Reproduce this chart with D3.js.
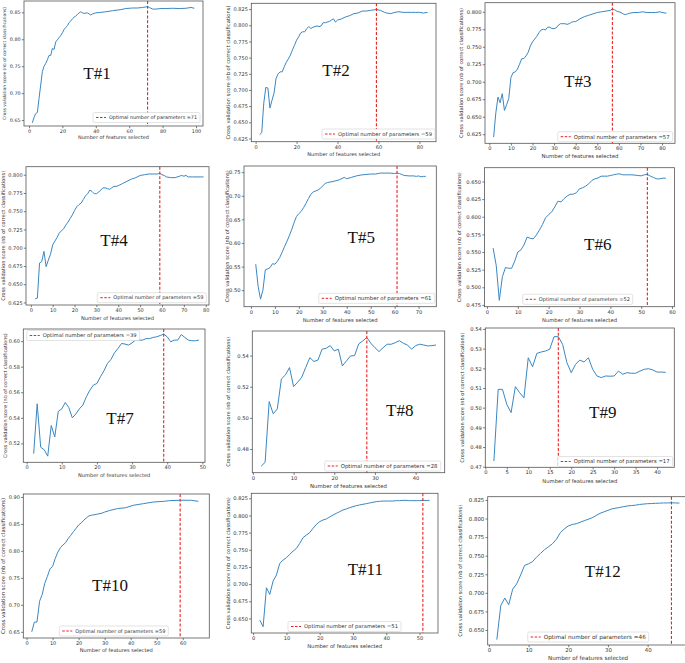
<!DOCTYPE html>
<html lang="en">
<head>
<meta charset="utf-8">
<title>RFECV - cross validation score vs number of features</title>
<script src="https://cdn.jsdelivr.net/npm/d3@7"></script>
<style>
  body { margin: 0; background: #fff; }
  svg { display: block; }
  text { font-family: "DejaVu Sans", sans-serif; fill: #333; }
  .title { font-family: "Liberation Serif", "Times New Roman", serif; fill: #111; }
</style>
</head>
<body>
<div id="chart"></div>
<script>
// ---- data ----
var titles = ["T#1","T#2","T#3","T#4","T#5","T#6","T#7","T#8","T#9","T#10","T#11","T#12"];
var optimal = [71, 59, 57, 59, 61, 52, 39, 28, 17, 59, 51, 46];
var legendText = "Optimal number of parameters =";
var xLabel = "Number of features selected";
var yLabel = "Cross validation score (nb of correct classifications)";

var xLims = [[-3,104.2],[-2.1,88.1],[-2,86],[-2.2,81.5],[-2.9,77.4],[-0.8,60.8],
             [-0.95,50.75],[-0.15,47.15],[0,44],[-1.25,70.2],[-0.55,55.55],[-0.3,50.3]];
var yLims = [[0.639,0.871],[0.620,0.834],[0.612,0.813],[0.6215,0.811],[0.465,0.763],[0.4725,0.6695],
             [0.5052,0.6095],[0.4648,0.5558],[0.4697,0.5405],[0.6385,0.9055],[0.6288,0.8323],[0.6298,0.8294]];

var xTicks = [
  [0,20,40,60,80,100], [0,20,40,60,80], [0,10,20,30,40,50,60,70,80], [0,10,20,30,40,50,60,70,80],
  [0,10,20,30,40,50,60,70], [0,10,20,30,40,50,60], [0,10,20,30,40,50], [0,10,20,30,40],
  [0,5,10,15,20,25,30,35,40], [0,10,20,30,40,50,60], [0,10,20,30,40,50], [0,10,20,30,40,50]
];
var yTicks = [
  ["0.65","0.70","0.75","0.80","0.85"],
  ["0.625","0.650","0.675","0.700","0.725","0.750","0.775","0.800","0.825"],
  ["0.625","0.650","0.675","0.700","0.725","0.750","0.775","0.800"],
  ["0.625","0.650","0.675","0.700","0.725","0.750","0.775","0.800"],
  ["0.50","0.55","0.60","0.65","0.70","0.75"],
  ["0.475","0.500","0.525","0.550","0.575","0.600","0.625","0.650"],
  ["0.52","0.54","0.56","0.58","0.60"],
  ["0.48","0.50","0.52","0.54"],
  ["0.47","0.48","0.49","0.50","0.51","0.52","0.53","0.54"],
  ["0.65","0.70","0.75","0.80","0.85","0.90"],
  ["0.650","0.675","0.700","0.725","0.750","0.775","0.800","0.825"],
  ["0.650","0.675","0.700","0.725","0.750","0.775","0.800","0.825"]
];

// [number of features, score]
var t1 = [[2,0.645],[3,0.655],[4,0.662],[5,0.664],[6,0.690],[7,0.715],[8,0.740],[9,0.750],[10,0.755],[11,0.762],
  [12,0.770],[13,0.770],[14,0.783],[15,0.781],[16,0.795],[17,0.799],[18,0.803],[19,0.807],[20,0.812],[21,0.818],
  [22,0.822],[23,0.825],[24,0.831],[25,0.834],[26,0.838],[27,0.841],[28,0.843],[29,0.846],[30,0.849],[31,0.851],
  [32,0.849],[33,0.848],[35,0.849],[36,0.847],[37,0.845],[38,0.847],[40,0.849],[43,0.850],[46,0.851],[50,0.853],
  [55,0.855],[58,0.857],[62,0.858],[65,0.858],[68,0.859],[71,0.8605],[72,0.859],[74,0.856],[76,0.856],[79,0.857],
  [82,0.857],[86,0.8575],[90,0.857],[94,0.8575],[97,0.859],[99,0.8575]];
var t2 = [[2,0.631],[3,0.634],[4,0.680],[5,0.704],[6,0.703],[7,0.672],[8,0.684],[9,0.695],[10,0.718],[11,0.725],
  [12,0.728],[13,0.728],[14,0.736],[15,0.743],[16,0.748],[17,0.754],[18,0.762],[19,0.769],[20,0.777],[21,0.782],
  [22,0.788],[23,0.790],[24,0.790],[25,0.795],[26,0.798],[27,0.795],[28,0.797],[29,0.798],[30,0.799],[31,0.798],
  [32,0.799],[33,0.804],[34,0.804],[35,0.805],[36,0.806],[37,0.808],[38,0.810],[39,0.805],[40,0.808],[42,0.810],
  [44,0.813],[46,0.815],[48,0.818],[50,0.819],[52,0.822],[54,0.822],[56,0.823],[58,0.824],[59,0.8245],[61,0.823],
  [63,0.820],[64,0.819],[66,0.818],[68,0.820],[70,0.821],[72,0.820],[74,0.820],[76,0.820],[78,0.820],[80,0.820],
  [82,0.819],[84,0.820]];
var t3 = [[2,0.621],[3,0.655],[4,0.678],[5,0.670],[6,0.683],[7,0.659],[8,0.667],[9,0.676],[10,0.706],[11,0.713],
  [12,0.714],[13,0.718],[14,0.725],[15,0.733],[16,0.733],[17,0.737],[18,0.742],[19,0.751],[20,0.757],[21,0.761],
  [22,0.765],[23,0.770],[24,0.774],[25,0.775],[26,0.774],[27,0.778],[28,0.778],[29,0.776],[30,0.776],[31,0.777],
  [32,0.781],[33,0.783],[34,0.783],[35,0.783],[36,0.782],[37,0.783],[38,0.785],[39,0.786],[40,0.786],[42,0.790],
  [44,0.793],[46,0.795],[48,0.797],[50,0.799],[52,0.800],[54,0.801],[56,0.802],[57,0.804],[58,0.803],[59,0.801],
  [61,0.799],[62,0.797],[63,0.796],[64,0.797],[65,0.798],[67,0.799],[69,0.799],[71,0.800],[73,0.799],[75,0.799],
  [77,0.799],[79,0.800],[80,0.799],[82,0.798]];
var t4 = [[2,0.630],[3,0.631],[4,0.679],[5,0.681],[6,0.695],[7,0.674],[8,0.683],[9,0.691],[10,0.704],[11,0.709],
  [12,0.714],[13,0.720],[14,0.723],[15,0.726],[16,0.731],[17,0.735],[18,0.740],[19,0.745],[20,0.751],[21,0.756],
  [22,0.759],[23,0.761],[24,0.766],[25,0.771],[26,0.774],[27,0.779],[28,0.777],[29,0.774],[30,0.774],[31,0.776],
  [32,0.779],[33,0.782],[34,0.782],[35,0.781],[36,0.780],[37,0.782],[38,0.784],[39,0.784],[40,0.785],[42,0.788],
  [44,0.791],[46,0.794],[48,0.796],[50,0.799],[52,0.800],[54,0.801],[56,0.801],[58,0.801],[59,0.802],[60,0.800],
  [61,0.799],[62,0.797],[64,0.796],[66,0.796],[68,0.798],[69,0.799],[70,0.798],[71,0.799],[72,0.797],[74,0.797],
  [76,0.797],[78,0.797],[79,0.797]];
var t5 = [[2,0.555],[3,0.508],[4,0.481],[5,0.500],[6,0.543],[7,0.545],[8,0.548],[9,0.556],[10,0.555],[11,0.561],
  [12,0.569],[13,0.580],[14,0.592],[15,0.603],[16,0.615],[17,0.628],[18,0.643],[19,0.656],[20,0.662],[21,0.667],
  [22,0.675],[23,0.684],[24,0.694],[25,0.703],[26,0.708],[27,0.710],[28,0.712],[29,0.716],[30,0.721],[31,0.726],
  [32,0.728],[33,0.729],[35,0.731],[37,0.734],[39,0.739],[40,0.736],[42,0.739],[44,0.742],[46,0.744],[48,0.745],
  [50,0.746],[52,0.746],[54,0.748],[56,0.748],[58,0.748],[60,0.747],[61,0.748],[62,0.747],[63,0.745],[64,0.743],
  [66,0.742],[68,0.742],[69,0.741],[70,0.742],[71,0.740],[72,0.741],[73,0.741]];
var t6 = [[2,0.5555],[3,0.531],[4,0.4815],[5,0.515],[6,0.528],[7,0.527],[8,0.527],[9,0.537],[10,0.550],[11,0.553],
  [12,0.560],[13,0.571],[14,0.5695],[15,0.5686],[16,0.574],[17,0.581],[18,0.589],[19,0.5985],[20,0.603],[21,0.607],
  [22,0.614],[23,0.622],[24,0.621],[25,0.6257],[26,0.6294],[27,0.6318],[28,0.632],[29,0.634],[30,0.6397],[31,0.641],
  [32,0.6434],[33,0.6467],[34,0.6514],[35,0.6537],[36,0.655],[37,0.6575],[38,0.6575],[39,0.6575],[40,0.6584],[41,0.6594],
  [42,0.6603],[43,0.6608],[44,0.6594],[45,0.6594],[46,0.6594],[47,0.6594],[48,0.659],[49,0.6584],[50,0.658],[51,0.6594],
  [52,0.660],[53,0.6575],[54,0.6556],[55,0.6537],[56,0.6537],[57,0.6547],[58,0.6547]];
var t7 = [[2,0.512],[3,0.551],[4,0.517],[5,0.515],[6,0.510],[7,0.534],[8,0.525],[9,0.545],[10,0.547],[11,0.552],
  [12,0.548],[13,0.540],[14,0.543],[15,0.547],[16,0.550],[17,0.5565],[18,0.5617],[19,0.5656],[20,0.5669],[21,0.5721],
  [22,0.5768],[23,0.5825],[24,0.5857],[25,0.5909],[26,0.5943],[27,0.5982],[28,0.5977],[29,0.5969],[30,0.5987],[31,0.6008],
  [32,0.6008],[33,0.6008],[34,0.602],[35,0.602],[36,0.6029],[37,0.6034],[38,0.6044],[39,0.6055],[40,0.6034],[41,0.5995],
  [42,0.6008],[43,0.6008],[44,0.6052],[45,0.6029],[46,0.6008],[47,0.6003],[48,0.6003],[49,0.6008]];
var t8 = [[2,0.4689],[3,0.4715],[4,0.5105],[5,0.5026],[6,0.5058],[7,0.525],[8,0.5276],[9,0.5323],[10,0.5201],[11,0.5229],
  [12,0.5261],[13,0.5325],[14,0.5387],[15,0.5362],[16,0.5372],[17,0.5441],[18,0.5447],[19,0.5464],[20,0.543],[21,0.5441],
  [22,0.5334],[23,0.5366],[24,0.5398],[25,0.54],[26,0.5475],[27,0.5494],[28,0.5517],[29,0.5479],[30,0.5451],[31,0.5426],
  [32,0.5451],[33,0.5473],[34,0.5473],[35,0.5483],[36,0.5496],[37,0.5479],[38,0.5468],[39,0.5441],[40,0.5464],[41,0.5473],
  [42,0.5468],[43,0.5462],[44,0.5464],[45,0.5468]];
var t9 = [[2,0.4729],[3,0.5093],[4,0.5093],[5,0.5017],[6,0.4975],[7,0.5107],[8,0.5076],[9,0.505],[10,0.5254],[11,0.5208],
  [12,0.5276],[13,0.5283],[14,0.5288],[15,0.5297],[16,0.5361],[17,0.5361],[18,0.5322],[19,0.5229],[20,0.5178],[21,0.522],
  [22,0.5242],[23,0.5232],[24,0.5254],[25,0.5195],[26,0.5161],[27,0.5153],[28,0.5161],[29,0.516],[30,0.5161],[31,0.5186],
  [32,0.517],[33,0.5178],[34,0.5175],[35,0.5175],[36,0.5186],[37,0.5195],[38,0.5198],[39,0.5192],[40,0.5181],[41,0.5181],
  [42,0.518]];
var t10 = [[2,0.650],[3,0.668],[4,0.668],[5,0.7066],[6,0.719],[7,0.740],[8,0.7526],[9,0.7668],[10,0.771],[11,0.786],
  [12,0.7975],[13,0.806],[14,0.811],[15,0.8153],[16,0.823],[17,0.829],[18,0.8355],[19,0.8417],[20,0.848],[21,0.852],
  [22,0.857],[23,0.8613],[24,0.865],[25,0.8662],[26,0.867],[27,0.868],[29,0.870],[30,0.872],[32,0.875],[35,0.8785],
  [38,0.880],[41,0.8846],[45,0.8877],[49,0.8908],[53,0.892],[55,0.8932],[59,0.8939],[63,0.8939],[66,0.892]];
var t11 = [[2,0.6476],[3,0.638],[4,0.6947],[5,0.685],[6,0.7045],[7,0.7132],[8,0.7302],[9,0.735],[10,0.7385],[11,0.7434],
  [12,0.748],[13,0.752],[14,0.7594],[15,0.7677],[16,0.7715],[17,0.775],[18,0.7813],[19,0.787],[20,0.791],[21,0.7934],
  [22,0.795],[23,0.7978],[24,0.8007],[25,0.8031],[26,0.8056],[27,0.808],[28,0.8095],[29,0.8114],[30,0.8128],[31,0.8143],
  [32,0.8153],[33,0.8163],[34,0.8172],[35,0.8182],[36,0.8192],[37,0.8201],[38,0.8206],[39,0.821],[40,0.821],[41,0.821],
  [42,0.821],[43,0.8216],[44,0.8216],[45,0.822],[46,0.822],[47,0.8216],[48,0.8216],[49,0.8216],[50,0.8216],[51,0.822],
  [52,0.8218],[53,0.822]];
var t12 = [[2,0.637],[3,0.683],[4,0.693],[5,0.684],[6,0.705],[7,0.712],[8,0.724],[9,0.737],[10,0.739],[11,0.742],
  [12,0.748],[13,0.753],[14,0.758],[15,0.762],[16,0.766],[17,0.772],[18,0.781],[19,0.786],[20,0.790],[21,0.792],
  [22,0.793],[23,0.795],[24,0.797],[25,0.799],[26,0.801],[27,0.804],[28,0.807],[29,0.809],[30,0.811],[31,0.813],
  [32,0.814],[33,0.815],[34,0.816],[35,0.817],[36,0.8175],[37,0.818],[38,0.819],[39,0.8195],[40,0.820],[41,0.8202],
  [42,0.8205],[43,0.8207],[44,0.821],[45,0.821],[46,0.8212],[47,0.821],[48,0.8208]];
var scores = [t1, t2, t3, t4, t5, t6, t7, t8, t9, t10, t11, t12];

// ---- layout (pixels) ----
// l,t,r,b: plot frame; yl: y-label offset; xl: x-label baseline offset; fs: tick font size
// tx,ty,ts: panel tag; lx,ly,lw: legend box corner and width; xw,yw: axis label lengths
var layout = [
  {l:24,    t:1,     r:203,   b:126,   yl:20, xl:12.5, fs:4.9, tx:97,    ty:73,    ts:17, lx:93,    ly:112.5, lw:107, xw:71, yw:113},
  {l:251.3, t:3.3,   r:436,   b:141.7, yl:23, xl:14,   fs:5.0, tx:336,   ty:70,    ts:17, lx:322,   ly:129,   lw:113, xw:73, yw:134},
  {l:485,   t:2.7,   r:675,   b:143.3, yl:24, xl:14.4, fs:5.2, tx:577.7, ty:81,    ts:17, lx:557.7, ly:131.7, lw:115, xw:77, yw:130},
  {l:26,    t:166.7, r:209,   b:305,   yl:23, xl:15,   fs:5.0, tx:114,   ty:240,   ts:17, lx:97.3,  ly:292.7, lw:109, xw:73, yw:130},
  {l:244,   t:166,   r:436.3, b:306.7, yl:17, xl:15,   fs:5.2, tx:361.3, ty:236.7, ts:17, lx:318.7, ly:293.3, lw:116, xw:75, yw:132},
  {l:484.5, t:167.7, r:674.5, b:306.7, yl:25, xl:15,   fs:5.2, tx:597.7, ty:244.3, ts:17, lx:522.7, ly:294.3, lw:110, xw:75, yw:130},
  {l:23.3,  t:329,   r:205,   b:462.3, yl:18, xl:14.4, fs:5.0, tx:120,   ty:418.3, ts:17, lx:26.7,  ly:330.5, lw:113, xw:72, yw:125},
  {l:252.3, t:331,   r:444.7, b:472.7, yl:24, xl:15,   fs:5.2, tx:399.7, ty:410,   ts:17, lx:324.7, ly:461,   lw:116, xw:77, yw:130},
  {l:485.3, t:328,   r:674.3, b:467.3, yl:23, xl:15.5, fs:5.2, tx:602.7, ty:411.7, ts:17, lx:557.7, ly:456.5, lw:115, xw:75, yw:130},
  {l:23.3,  t:494,   r:209.3, b:638,   yl:20, xl:13.5, fs:5.0, tx:110,   ty:585,   ts:17, lx:59.3,  ly:626,   lw:109, xw:73, yw:136},
  {l:251.3, t:493.3, r:438,   b:633,   yl:23, xl:15,   fs:5.1, tx:365.3, ty:569,   ts:17, lx:288,   ly:621.5, lw:113, xw:75, yw:132},
  {l:487.7, t:496.7, r:688.5, b:645,   yl:27, xl:15,   fs:5.4, tx:602.7, ty:571,   ts:17, lx:527.7, ly:632,   lw:121, xw:80, yw:132}
];

// scale a text's font so it spans the given length
function fitText(sel, len) {
  for (var k = 0; k < 2; k++) {
    var w = sel.node().getComputedTextLength();
    if (w > 0) sel.attr("font-size", +sel.attr("font-size") * len / w);
  }
}

var svg = d3.select("#chart").append("svg")
    .attr("width", 685)
    .attr("height", 663);

svg.append("rect").attr("width", 685).attr("height", 663).attr("fill", "#fff");

layout.forEach(function(L, i) {
  var g = svg.append("g");
  var x = d3.scaleLinear().domain(xLims[i]).range([L.l, L.r]);
  var y = d3.scaleLinear().domain(yLims[i]).range([L.b, L.t]);

  g.append("clipPath").attr("id", "clip" + i)
    .append("rect").attr("x", L.l).attr("y", L.t).attr("width", L.r - L.l).attr("height", L.b - L.t);

  // x axis
  var xa = g.append("g")
    .attr("transform", "translate(0," + L.b + ")")
    .call(d3.axisBottom(x).tickValues(xTicks[i]).tickFormat(d3.format("d"))
      .tickSize(2.2).tickPadding(1.2).tickSizeOuter(0));
  // y axis
  var yt = yTicks[i];
  var ya = g.append("g")
    .attr("transform", "translate(" + L.l + ",0)")
    .call(d3.axisLeft(y).tickValues(yt.map(Number)).tickFormat(function(d, j) { return yt[j]; })
      .tickSize(2.2).tickPadding(1.2).tickSizeOuter(0));
  [xa, ya].forEach(function(a) {
    a.select(".domain").remove();
    a.selectAll("line").attr("stroke", "#444").attr("stroke-width", 0.7);
    a.selectAll("text").attr("font-size", L.fs).attr("fill", "#333")
      .attr("font-family", "DejaVu Sans, sans-serif");
  });

  // score curve
  var line = d3.line().x(function(d) { return x(d[0]); }).y(function(d) { return y(d[1]); });
  g.append("path")
    .datum(scores[i])
    .attr("clip-path", "url(#clip" + i + ")")
    .attr("d", line)
    .attr("fill", "none")
    .attr("stroke", "#3a87c2")
    .attr("stroke-width", 1);

  // optimal number marker
  g.append("line")
    .attr("x1", x(optimal[i])).attr("x2", x(optimal[i]))
    .attr("y1", L.t).attr("y2", L.b)
    .attr("stroke", "#e82222").attr("stroke-width", 1.1)
    .attr("stroke-dasharray", "3,1.8");

  // frame
  g.append("rect")
    .attr("x", L.l).attr("y", L.t).attr("width", L.r - L.l).attr("height", L.b - L.t)
    .attr("fill", "none").attr("stroke", "#555").attr("stroke-width", 0.8);

  // legend
  var lg = g.append("g").attr("transform", "translate(" + L.lx + "," + L.ly + ")");
  lg.append("rect").attr("height", 10).attr("width", L.lw).attr("rx", 1.5)
    .attr("fill", "#fff").attr("stroke", "#d0d0d0").attr("stroke-width", 0.6);
  lg.append("line").attr("x1", 3).attr("x2", 13).attr("y1", 5).attr("y2", 5)
    .attr("stroke", "#e82222").attr("stroke-width", 1).attr("stroke-dasharray", "2.5,1.5");
  var lt = lg.append("text").attr("x", 16).attr("y", 5).attr("dy", "0.35em")
    .attr("font-size", L.fs).text(legendText + optimal[i]);
  fitText(lt, L.lw - 19);

  // axis labels
  var xt = g.append("text")
    .attr("x", (L.l + L.r) / 2).attr("y", L.b + L.xl)
    .attr("text-anchor", "middle").attr("font-size", L.fs).text(xLabel);
  fitText(xt, L.xw);
  var ytx = g.append("text")
    .attr("transform", "translate(" + (L.l - L.yl) + "," + ((L.t + L.b) / 2) + ") rotate(-90)")
    .attr("text-anchor", "middle").attr("dy", "0.35em").attr("font-size", L.fs).text(yLabel);
  fitText(ytx, L.yw);

  // panel tag
  g.append("text").attr("class", "title")
    .attr("x", L.tx).attr("y", L.ty).attr("dy", "0.35em")
    .attr("text-anchor", "middle").attr("font-size", L.ts).text(titles[i]);
});
</script>
</body>
</html>
